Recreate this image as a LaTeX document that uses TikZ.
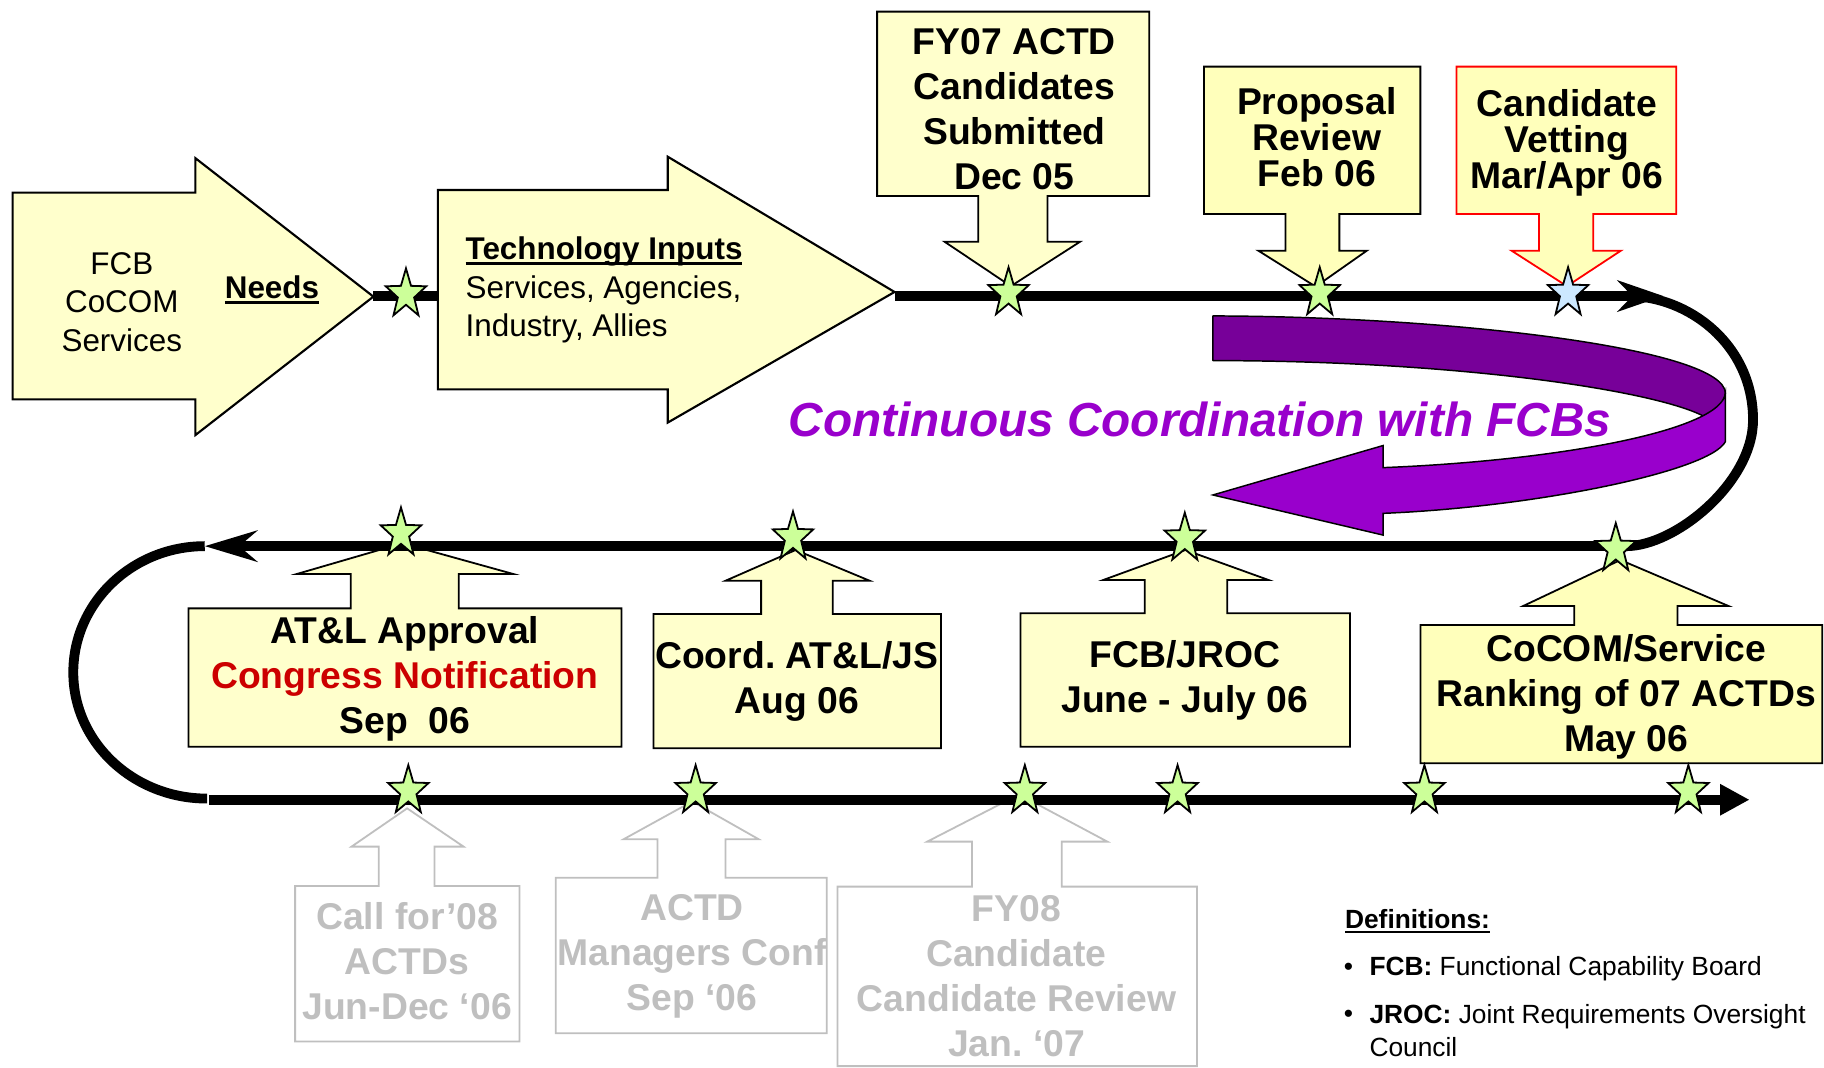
\documentclass[tikz,border=0pt]{standalone}
\usepackage{fontspec}
\setmainfont{Liberation Sans}
\usetikzlibrary{arrows.meta}
\frenchspacing
\definecolor{cyell}{HTML}{FFFFCC}
\definecolor{cyellp}{HTML}{FFFFBB}
\definecolor{cgreen}{HTML}{CCFF99}
\definecolor{cblue}{HTML}{CCE8FF}
\definecolor{cpurd}{HTML}{770099}
\definecolor{cpurl}{HTML}{9900CC}
\definecolor{cgrey}{HTML}{BFBFBF}
\definecolor{cred}{HTML}{CC0000}
\definecolor{credb}{HTML}{FF0000}
\newcommand\myul[2][0.085em]{\setbox0=\hbox{#2}\rlap{\rule[-0.17em]{\wd0}{#1}}\box0}
\tikzset{
  pics/gstar/.style={code={
    \path[draw=black, line width=1.1pt, line join=miter, fill=#1, xscale=0.82]
      (-90:22.3) -- (-54:9) -- (-18:22.3) -- (18:9) -- (54:22.3) -- (90:9)
      -- (126:22.3) -- (162:9) -- (198:22.3) -- (234:9) -- cycle;}},
  tl/.style={line width=6pt, black},
  callout/.style={draw=black, line width=1.1pt, fill=cyell, line join=miter},
  calloutp/.style={callout, fill=cyellp},
  calloutr/.style={callout, fill=cyellp, draw=credb},
  greycall/.style={draw=cgrey, line width=1.1pt, fill=white, line join=miter},
  bigarrow/.style={draw=black, line width=1.3pt, fill=cyell, line join=miter},
  ctxt/.style={font=\fontsize{22.8pt}{27.4pt}\selectfont\bfseries, align=center, inner sep=0pt},
  ctxtt/.style={font=\fontsize{22.8pt}{22pt}\selectfont\bfseries, align=center, inner sep=0pt},
  gtxt/.style={ctxt, text=cgrey},
  ntxt/.style={font=\fontsize{19.2pt}{23.6pt}\selectfont, inner sep=0pt},
  dtxt/.style={font=\fontsize{16.1pt}{19.2pt}\selectfont, inner sep=0pt, anchor=west},
  purd/.style={draw=black, line width=0.9pt, fill=cpurd, line join=round},
  purl/.style={draw=black, line width=0.9pt, fill=cpurl, line join=miter},
}
\begin{document}
\begin{tikzpicture}[x=0.025cm,y=-0.025cm]
\useasboundingbox (0,0) rectangle (1568,918);

% ---- purple coordination arrow
\path[purd] (1042.7,271.6) .. controls (1250,272) and (1483,300) .. (1483.2,338)
  .. controls (1482,348) and (1475,353) .. (1464.2,357.6)
  .. controls (1420,335) and (1250,310) .. (1042.7,310) -- cycle;
\path[purl] (1189,402) .. controls (1340,396) and (1480,370) .. (1483.2,338)
  -- (1483.2,379.7) .. controls (1470,405) and (1320,436) .. (1189,441.3)
  -- (1189,460) -- (1042.7,425.5) -- (1189,383) -- cycle;
\node[font=\fontsize{29.2pt}{34pt}\selectfont\bfseries\itshape, text=cpurl, inner sep=0pt]
  (coord) at (1031.5,361) {Continuous Coordination with FCBs};

% ---- big input arrows
\path[bigarrow] (10.9,165.6) -- (168,165.6) -- (168,136) -- (321,255) -- (168,374)
  -- (168,343.3) -- (10.9,343.3) -- cycle;
\path[bigarrow] (376.4,163.3) -- (574,163.3) -- (574,134.7) -- (769,251) -- (574,363.3)
  -- (574,334.7) -- (376.4,334.7) -- cycle;
\node[ntxt, align=center] (fcbtxt) at (104.7,259.6) {FCB\\CoCOM\\Services};
\node[ntxt, font=\fontsize{19.2pt}{23.6pt}\selectfont\bfseries] (needs) at (233.8,249) {\myul{Needs}};
\node[ntxt, align=left, anchor=west] (techtxt) at (400,249.5)
  {\textbf{\myul{Technology Inputs}}\\Services, Agencies,\\Industry, Allies};

% ---- top callouts (pointing down)
\path[callout] (754,10) -- (988,10) -- (988,168.5) -- (900.5,168.5) -- (900.5,207.8)
  -- (928.5,207.8) -- (869,246) -- (812,207.8) -- (841,207.8) -- (841,168.5)
  -- (754,168.5) -- cycle;
\node[ctxt] (fy07) at (872,94) {FY07 ACTD\\Candidates\\Submitted\\Dec 05};
\path[calloutp] (1035,57.3) -- (1221,57.3) -- (1221,184) -- (1151.4,184) -- (1151.4,215.5)
  -- (1175,215.5) -- (1131,246.4) -- (1081.7,215.5) -- (1105,215.5) -- (1105,184)
  -- (1035,184) -- cycle;
\node[ctxtt] (prop) at (1132,118) {Proposal\\Review\\Feb 06};
\path[calloutr] (1252,57.3) -- (1441,57.3) -- (1441,184) -- (1369.7,184) -- (1369.7,215.5)
  -- (1393.4,215.5) -- (1347,246) -- (1299.4,215.5) -- (1323,215.5) -- (1323,184)
  -- (1252,184) -- cycle;
\node[ctxtt] (vet) at (1347,122.5) {Candidate\\Vetting\\Mar/Apr 06};

% ---- middle callouts (pointing up)
\path[callout] (162,641.9) -- (162,523) -- (301.6,523) -- (301.6,493.4) -- (255.3,493.4)
  -- (346,467) -- (441.1,493.4) -- (394.3,493.4) -- (394.3,523) -- (534.3,523)
  -- (534.3,641.9) -- cycle;
\node[ctxt] (atl) at (348,583.5) {AT\&L Approval\\\textcolor{cred}{Congress Notification}\\Sep~~06};
\path[callout] (561.7,643.3) -- (561.7,527.8) -- (654.3,527.8) -- (654.3,499.2) -- (623.8,499.2)
  -- (684,472.8) -- (747.5,499.2) -- (715.9,499.2) -- (715.9,527.8) -- (809,527.8)
  -- (809,643.3) -- cycle;
\node[ctxt] (coordjs) at (685,585.5) {Coord. AT\&L/JS\\Aug 06};
\path[callout] (877.3,641.9) -- (877.3,527.2) -- (984,527.2) -- (984,498.6) -- (948.4,498.6)
  -- (1019,472.8) -- (1090.5,498.6) -- (1055,498.6) -- (1055,527.2) -- (1160.5,527.2)
  -- (1160.5,641.9) -- cycle;
\node[ctxt] (jroc) at (1018.5,585) {FCB/JROC\\June - July 06};
\path[calloutp] (1221.2,656.2) -- (1221.2,537.3) -- (1353.3,537.3) -- (1353.3,521) -- (1309.3,521)
  -- (1393,481.4) -- (1486,521) -- (1442,521) -- (1442,537.3) -- (1566.5,537.3)
  -- (1566.5,656.2) -- cycle;
\node[ctxt] (cocom) at (1398,599) {CoCOM/Service\\Ranking of 07 ACTDs\\May 06};

% ---- bottom grey callouts (pointing up)
\path[greycall] (253.7,895.4) -- (253.7,761.6) -- (325.6,761.6) -- (325.6,727.8) -- (302.2,727.8)
  -- (350,694.9) -- (398.5,727.8) -- (373.5,727.8) -- (373.5,761.6) -- (446.5,761.6)
  -- (446.5,895.4) -- cycle;
\node[gtxt] (call08) at (350,826.5) {Call for’08\\ACTDs\\Jun-Dec ‘06};
\path[greycall] (477.8,888.3) -- (477.8,754.5) -- (565.3,754.5) -- (565.3,721.5) -- (536,721.5)
  -- (595,689) -- (652.3,721.5) -- (623.6,721.5) -- (623.6,754.5) -- (710.7,754.5)
  -- (710.7,888.3) -- cycle;
\node[gtxt] (mgrs) at (595,822) {ACTD\\Managers Conf\\Sep ‘06};
\path[greycall] (720,916.5) -- (720,762.2) -- (835.6,762.2) -- (835.6,723.5) -- (797.1,723.5)
  -- (876,683) -- (951.9,723.5) -- (912.7,723.5) -- (912.7,762.2) -- (1029,762.2)
  -- (1029,916.5) -- cycle;
\node[gtxt] (fy08) at (873.8,839) {FY08\\Candidate\\Candidate Review\\Jan. ‘07};

% ---- timeline
\coordinate (fcbtip) at (321,254.5);
\coordinate (techin) at (376.4,254.5);
\coordinate (techtip) at (769,254.5);
\coordinate (topend) at (1430,254.5);
\coordinate (rarcA) at (1400,254.5);
\coordinate (rarcB) at (1398,469.5);
\coordinate (midend) at (176,469.5);
\coordinate (larcB) at (178,686.5);
\coordinate (botstart) at (180,687.5);
\coordinate (botend) at (1504,687.5);
\draw[tl] (fcbtip) -- (techin);
\draw[tl, -{Stealth[length=28pt 0, width=19pt 0, inset=9pt 0]}] (techtip) -- (topend);
\draw[tl] (rarcA) .. controls (1450,254.5) and (1507,295) .. (1507,361)
  .. controls (1507,415) and (1440,469.5) .. (rarcB);
\draw[tl, -{Stealth[length=32pt 0, width=19pt 0, inset=11pt 0]}] (rarcB) -- (midend);
\draw[tl] (midend) .. controls (114.5,469.5) and (63,517.5) .. (63,578)
  .. controls (63,638) and (114.5,686.5) .. (larcB);
\draw[tl, -{Triangle[length=18pt 0, width=18pt 0]}] (botstart) -- (botend);

% ---- stars
\pic (s1) at (349,253) {gstar=cgreen};
\pic (s2) at (867,252) {gstar=cgreen};
\pic (s3) at (1134.5,252) {gstar=cgreen};
\pic (s4) at (1348,252) {gstar=cblue};
\pic (s5) at (344.7,458.5) {gstar=cgreen};
\pic (s6) at (681.7,462) {gstar=cgreen};
\pic (s7) at (1018.5,463) {gstar=cgreen};
\pic (s8) at (1389,472) {gstar=cgreen};
\pic (s9) at (351,680) {gstar=cgreen};
\pic (s10) at (598,680) {gstar=cgreen};
\pic (s11) at (881,680) {gstar=cgreen};
\pic (s12) at (1012.3,680) {gstar=cgreen};
\pic (s13) at (1224.5,680) {gstar=cgreen};
\pic (s14) at (1451.4,680) {gstar=cgreen};

% ---- definitions
\node[dtxt, font=\fontsize{16.1pt}{19.2pt}\selectfont\bfseries] (defh) at (1156,792) {\myul[0.07em]{Definitions:}};
\node[dtxt] (b1) at (1155,833) {\textbullet};
\node[dtxt] (d1) at (1177,833) {\textbf{FCB:} Functional Capability Board};
\node[dtxt] (b2) at (1155,874) {\textbullet};
\node[dtxt] (d2) at (1177,874) {\textbf{JROC:} Joint Requirements Oversight};
\node[dtxt] (d3) at (1177,900) {Council};
\end{tikzpicture}
\end{document}
